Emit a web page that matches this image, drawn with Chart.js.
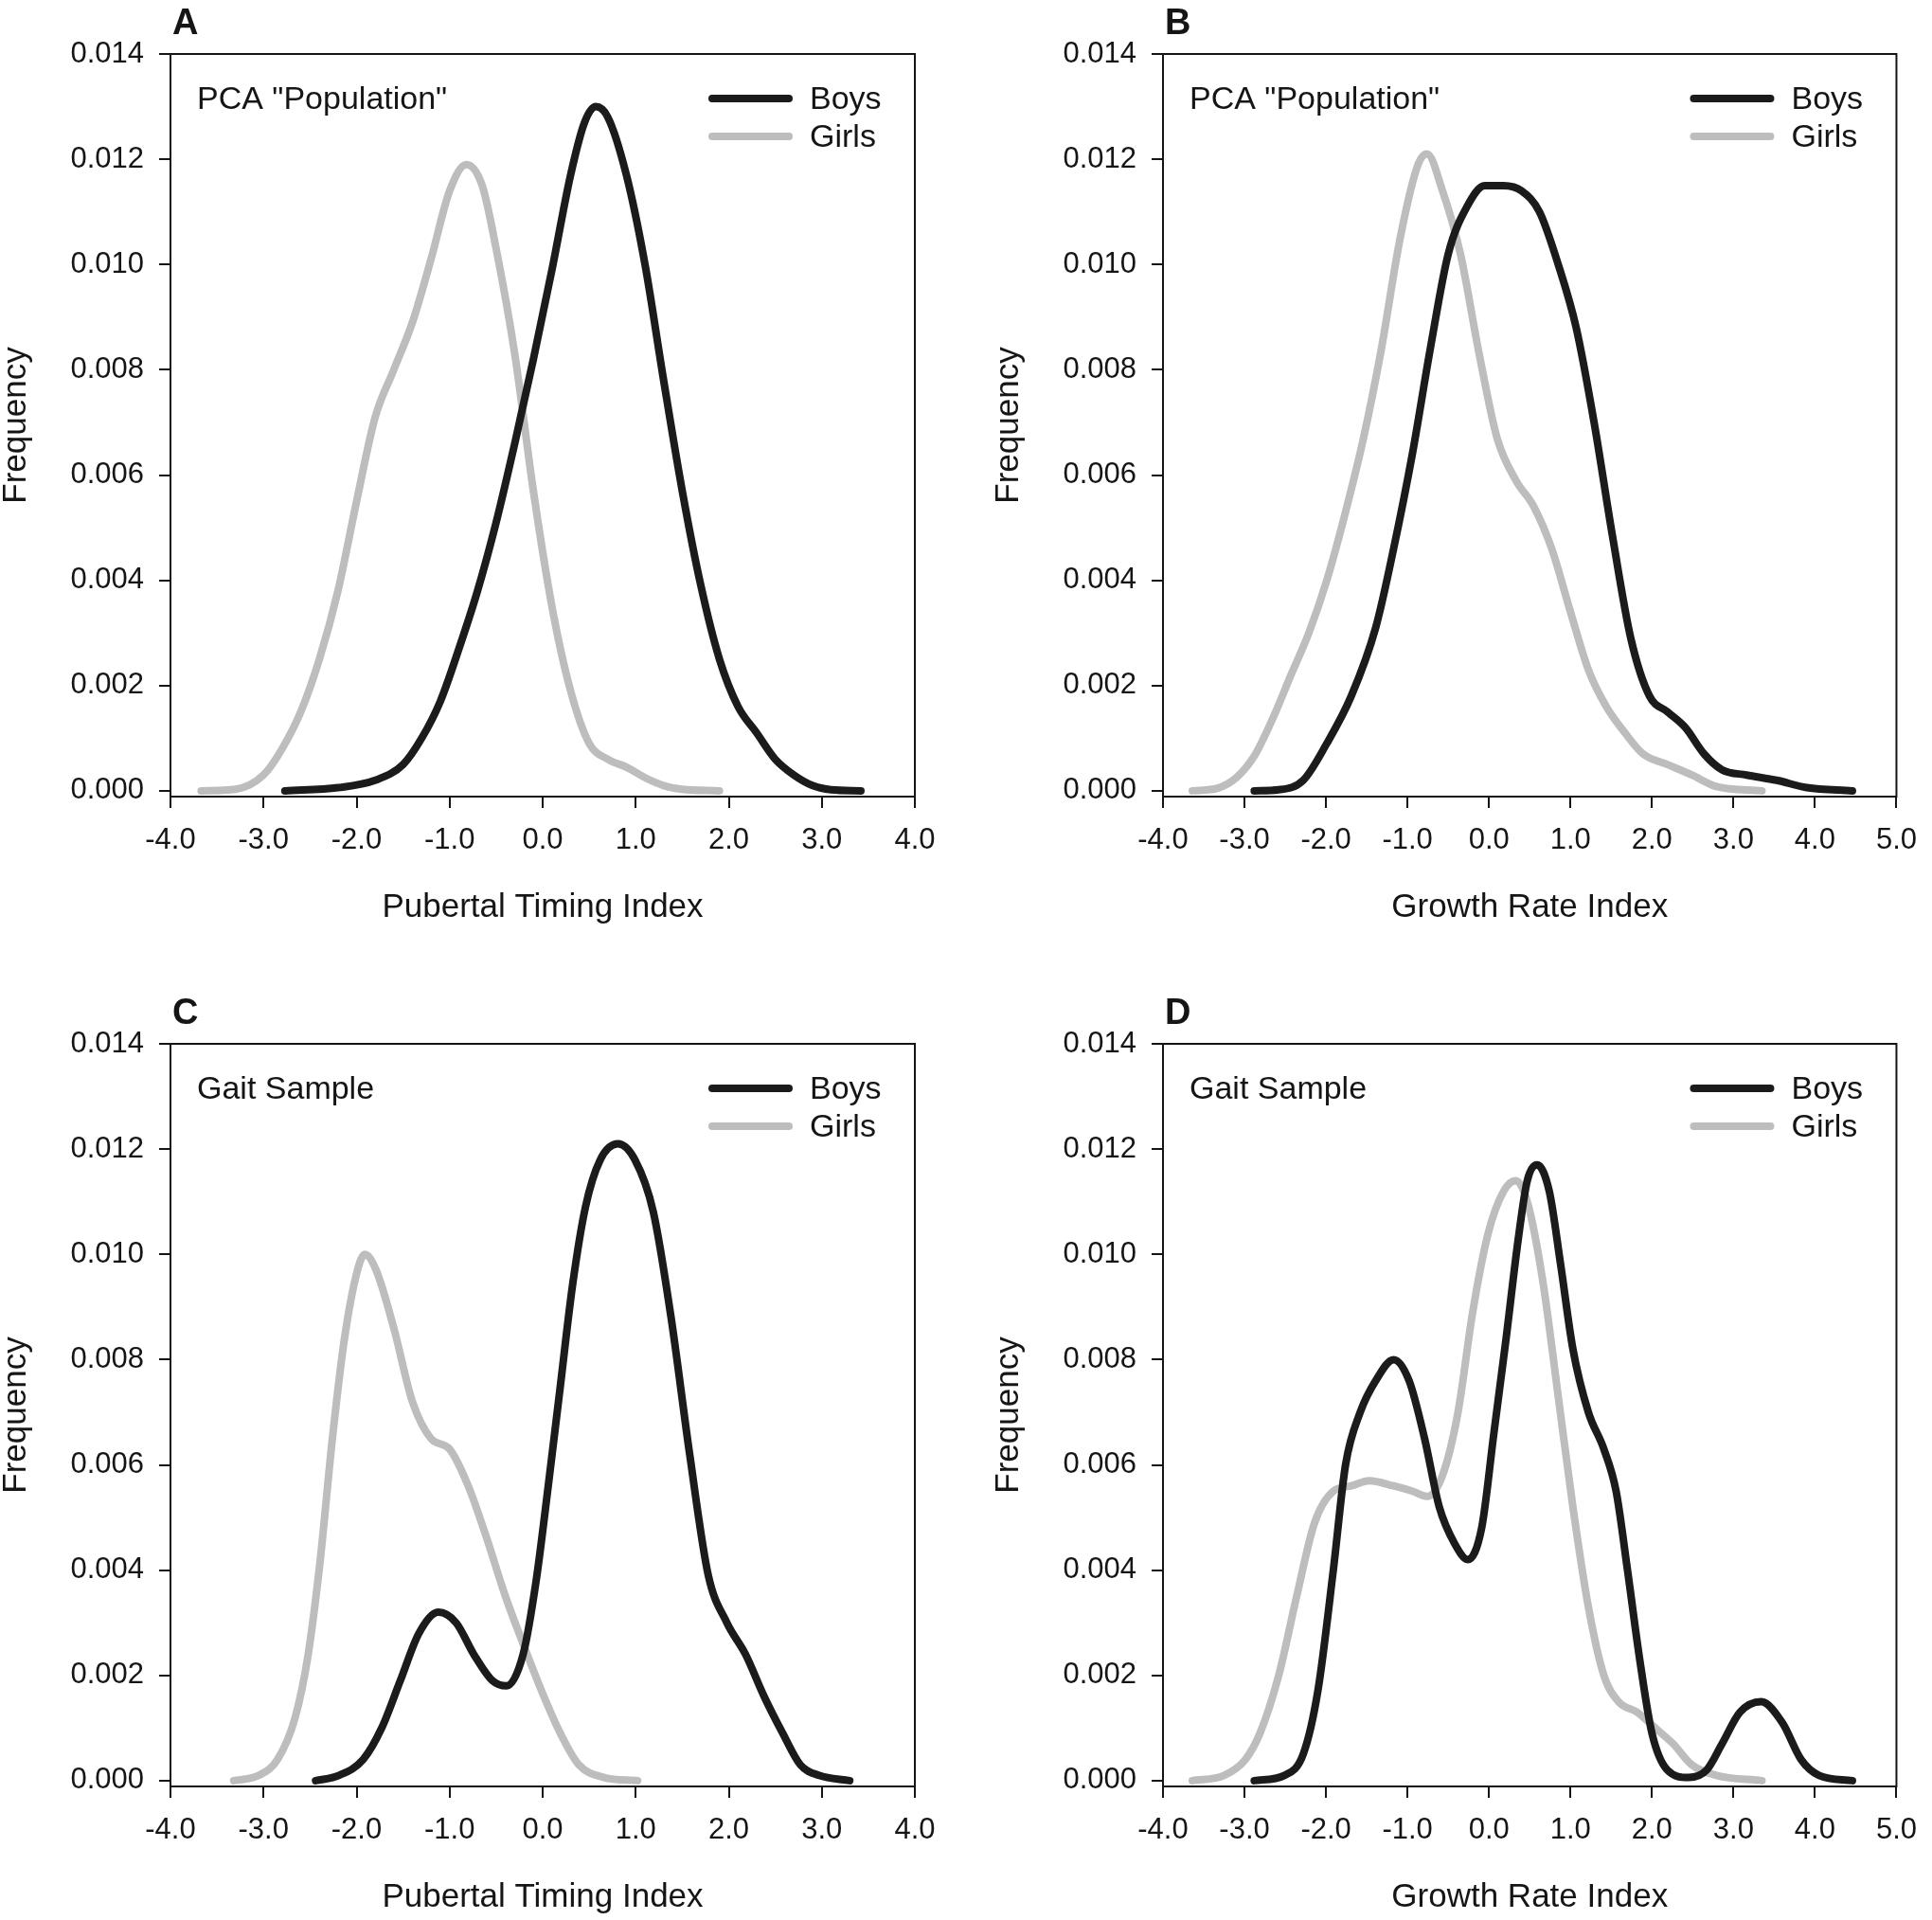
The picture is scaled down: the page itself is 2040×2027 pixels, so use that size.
<!DOCTYPE html>
<html>
<head>
<meta charset="utf-8">
<script src="https://cdn.jsdelivr.net/npm/chart.js"></script>
<style>
  html, body { margin: 0; padding: 0; background: #fff; overflow: hidden; }
  body { width: 2040px; height: 2027px; position: relative; }
  canvas { position: absolute; }
</style>
</head>
<body>
<canvas id="panelA"></canvas>
<canvas id="panelB"></canvas>
<canvas id="panelC"></canvas>
<canvas id="panelD"></canvas>
<script>
// Panel A : PCA "Population", pubertal timing
const xBoysA = [-2.77, -2.2, -1.8, -1.5, -1.3, -1.1, -0.9, -0.7, -0.5, -0.3, -0.1, 0.1, 0.3, 0.45, 0.57, 0.7, 0.9, 1.1, 1.3, 1.5, 1.7, 1.9, 2.1, 2.3, 2.5, 2.7, 2.9, 3.1, 3.42];
const yBoysA = [0, 0.00006, 0.0002, 0.0005, 0.001, 0.0017, 0.0027, 0.0038, 0.0051, 0.0066, 0.0082, 0.0099, 0.0117, 0.0127, 0.013, 0.0128, 0.0117, 0.01, 0.0078, 0.0057, 0.0039, 0.0025, 0.0016, 0.0011, 0.0006, 0.0003, 0.0001, 0.00002, 0];
const xGirlsA = [-3.67, -3.3, -3.0, -2.8, -2.6, -2.4, -2.2, -2.0, -1.8, -1.6, -1.4, -1.2, -1.0, -0.82, -0.65, -0.5, -0.3, -0.1, 0.1, 0.3, 0.5, 0.7, 0.9, 1.1, 1.3, 1.5, 1.9];
const yGirlsA = [0, 0.00003, 0.0003, 0.0008, 0.0015, 0.0025, 0.0038, 0.0055, 0.0071, 0.008, 0.0089, 0.0101, 0.0114, 0.0119, 0.0115, 0.0103, 0.0083, 0.0057, 0.0035, 0.0019, 0.0009, 0.0006, 0.00045, 0.00025, 0.0001, 0.00003, 0];

// Panel B : PCA "Population", growth rate
const xBoysB = [-2.88, -2.58, -2.28, -1.99, -1.69, -1.39, -1.17, -0.94, -0.72, -0.5, -0.27, -0.05, 0.18, 0.4, 0.62, 0.85, 1.07, 1.29, 1.52, 1.74, 1.97, 2.19, 2.41, 2.64, 2.86, 3.16, 3.53, 3.9, 4.46];
const yBoysB = [0, 0.00002, 0.0002, 0.0009, 0.0018, 0.0031, 0.0046, 0.0064, 0.0084, 0.0102, 0.0111, 0.0115, 0.0115, 0.0114, 0.011, 0.01, 0.0088, 0.007, 0.0048, 0.0029, 0.0018, 0.0015, 0.0012, 0.0007, 0.0004, 0.0003, 0.0002, 0.00006, 0];
const xGirlsB = [-3.64, -3.33, -3.1, -2.88, -2.66, -2.43, -2.21, -1.99, -1.76, -1.54, -1.32, -1.09, -0.87, -0.76, -0.57, -0.35, -0.12, 0.1, 0.33, 0.55, 0.77, 1.0, 1.22, 1.44, 1.67, 1.89, 2.19, 2.49, 2.79, 3.35];
const yGirlsB = [0, 0.00005, 0.00025, 0.00066, 0.00135, 0.0022, 0.003, 0.004, 0.0053, 0.0067, 0.0084, 0.0105, 0.0119, 0.0121, 0.0114, 0.0102, 0.0083, 0.0067, 0.0059, 0.0054, 0.0046, 0.0034, 0.0023, 0.0016, 0.0011, 0.0007, 0.0005, 0.0003, 0.00008, 0];

// Panel C : Gait sample, pubertal timing
const xBoysC = [-2.44, -2.19, -1.93, -1.73, -1.53, -1.33, -1.12, -0.93, -0.74, -0.54, -0.39, -0.21, -0.07, 0.06, 0.19, 0.32, 0.46, 0.62, 0.81, 0.99, 1.19, 1.38, 1.58, 1.78, 1.98, 2.18, 2.38, 2.58, 2.77, 2.97, 3.3];
const yBoysC = [0, 0.0001, 0.0004, 0.001, 0.0019, 0.0028, 0.0032, 0.003, 0.0024, 0.0019, 0.0018, 0.0024, 0.0038, 0.0056, 0.0075, 0.0094, 0.0109, 0.0118, 0.0121, 0.0118, 0.0108, 0.0088, 0.0062, 0.0039, 0.003, 0.0024, 0.0016, 0.0009, 0.0003, 0.0001, 0];
const xGirlsC = [-3.32, -3.05, -2.85, -2.66, -2.52, -2.39, -2.26, -2.13, -1.99, -1.91, -1.79, -1.6, -1.4, -1.2, -1.0, -0.8, -0.6, -0.4, -0.21, -0.01, 0.19, 0.39, 0.66, 1.02];
const yGirlsC = [0, 0.0001, 0.0004, 0.0012, 0.0024, 0.0042, 0.0065, 0.0084, 0.0097, 0.01, 0.0097, 0.0086, 0.0072, 0.0065, 0.0063, 0.0056, 0.0046, 0.0035, 0.0026, 0.0017, 0.0009, 0.0003, 0.00006, 0];

// Panel D : Gait sample, growth rate
const xBoysD = [-2.88, -2.51, -2.28, -2.1, -1.91, -1.76, -1.58, -1.39, -1.17, -0.98, -0.79, -0.61, -0.42, -0.26, -0.09, 0.06, 0.21, 0.36, 0.47, 0.59, 0.74, 0.88, 1.03, 1.22, 1.41, 1.56, 1.7, 1.85, 2.0, 2.19, 2.45, 2.67, 2.86, 3.08, 3.34, 3.6, 3.83, 4.05, 4.46];
const yBoysD = [0, 0.0001, 0.0005, 0.0017, 0.004, 0.006, 0.007, 0.0076, 0.008, 0.0076, 0.0065, 0.0052, 0.0045, 0.0042, 0.0048, 0.0066, 0.0084, 0.0103, 0.0114, 0.0117, 0.0112, 0.0098, 0.0082, 0.007, 0.0063, 0.0055, 0.004, 0.0023, 0.0009, 0.0002, 0.00006, 0.0002, 0.0007, 0.0013, 0.0015, 0.0011, 0.0004, 0.0001, 0];
const xGirlsD = [-3.64, -3.25, -2.99, -2.81, -2.58, -2.36, -2.14, -1.91, -1.69, -1.47, -1.17, -0.94, -0.76, -0.57, -0.38, -0.2, -0.01, 0.18, 0.33, 0.47, 0.66, 0.85, 1.03, 1.22, 1.41, 1.59, 1.82, 2.04, 2.26, 2.49, 2.79, 3.35];
const yGirlsD = [0, 0.0001, 0.0004, 0.0009, 0.002, 0.0035, 0.0049, 0.0055, 0.0056, 0.0057, 0.0056, 0.0055, 0.0054, 0.0058, 0.007, 0.0089, 0.0104, 0.0112, 0.0114, 0.011, 0.0095, 0.0073, 0.0052, 0.0033, 0.002, 0.0015, 0.0013, 0.001, 0.0007, 0.0003, 0.0001, 0];

// Axis ticks
const freqTicks = [0, 0.002, 0.004, 0.006, 0.008, 0.010, 0.012, 0.014];
const pubertalTicks = [-4, -3, -2, -1, 0, 1, 2, 3, 4];
const growthTicks = [-4, -3, -2, -1, 0, 1, 2, 3, 4, 5];

const FONT = "'Liberation Sans', Arial, sans-serif";
const INK = '#151515';
const BOYS_COLOR = '#1b1b1b';
const GIRLS_COLOR = '#bdbdbd';

function toPoints(xs, ys) {
    return xs.map((x, i) => ({ x: x, y: ys[i] }));
}

// frame, panel letter, sample label and legend
const decorations = {
    id: 'decorations',
    afterDraw(chart, args, opts) {
        const ctx = chart.ctx;
        const a = chart.chartArea;
        ctx.save();
        ctx.strokeStyle = INK;
        ctx.lineWidth = 2;
        ctx.strokeRect(a.left, a.top, a.right - a.left, a.bottom - a.top);

        ctx.fillStyle = INK;
        ctx.textBaseline = 'alphabetic';
        ctx.textAlign = 'left';
        ctx.font = 'bold 38px ' + FONT;
        ctx.fillText(opts.letter, a.left + 2, a.top - 21);

        ctx.font = '34px ' + FONT;
        ctx.fillText(opts.sample, a.left + 28, a.top + 58);

        chart.data.datasets.forEach((ds, i) => {
            const y = a.top + 47 + i * 40;
            ctx.strokeStyle = ds.borderColor;
            ctx.lineWidth = 8;
            ctx.lineCap = 'round';
            ctx.beginPath();
            ctx.moveTo(a.right - 214, y);
            ctx.lineTo(a.right - 133, y);
            ctx.stroke();
            ctx.fillStyle = INK;
            ctx.fillText(ds.label, a.right - 111, y + 11);
        });
        ctx.restore();
    }
};

function makePanel(id, pos, letter, sample, xTitle, xTicks, boys, girls) {
    const canvas = document.getElementById(id);
    canvas.width = pos.w;
    canvas.height = pos.h;
    canvas.style.left = pos.left + 'px';
    canvas.style.top = pos.top + 'px';

    new Chart(canvas.getContext('2d'), {
        type: 'line',
        data: {
            datasets: [{
                label: 'Boys',
                data: boys,
                borderColor: BOYS_COLOR,
                borderWidth: 8,
                borderCapStyle: 'round',
                pointRadius: 0,
                cubicInterpolationMode: 'monotone'
            }, {
                label: 'Girls',
                data: girls,
                borderColor: GIRLS_COLOR,
                borderWidth: 8,
                borderCapStyle: 'round',
                pointRadius: 0,
                cubicInterpolationMode: 'monotone'
            }]
        },
        options: {
            responsive: false,
            animation: false,
            devicePixelRatio: 1,
            layout: { padding: { left: 0, top: 57, right: pos.w - pos.frameRight, bottom: 0 } },
            plugins: {
                legend: { display: false },
                tooltip: { enabled: false },
                decorations: { letter: letter, sample: sample }
            },
            scales: {
                x: {
                    type: 'linear',
                    min: xTicks[0],
                    max: xTicks[xTicks.length - 1],
                    afterFit: (scale) => { scale.height = pos.h - 841; },
                    afterBuildTicks: (scale) => { scale.ticks = xTicks.map(v => ({ value: v })); },
                    grid: { drawOnChartArea: false, drawTicks: true, tickLength: 12, color: INK, lineWidth: 2 },
                    border: { display: true, color: INK, width: 2 },
                    ticks: {
                        autoSkip: false,
                        maxRotation: 0,
                        padding: 16,
                        color: INK,
                        font: { family: FONT, size: 31 },
                        callback: (v) => Number(v).toFixed(1)
                    },
                    title: {
                        display: true,
                        text: xTitle,
                        color: INK,
                        font: { family: FONT, size: 35, lineHeight: 1 },
                        padding: { top: 0, bottom: pos.h - 17.5 - 958 }
                    }
                },
                y: {
                    min: -0.00011,
                    max: 0.014,
                    afterFit: (scale) => { scale.width = 180; },
                    afterBuildTicks: (scale) => { scale.ticks = freqTicks.map(v => ({ value: v })); },
                    grid: { drawOnChartArea: false, drawTicks: true, tickLength: 12, color: INK, lineWidth: 2 },
                    border: { display: true, color: INK, width: 2 },
                    ticks: {
                        padding: 16,
                        color: INK,
                        font: { family: FONT, size: 31 },
                        callback: (v) => Number(v).toFixed(3)
                    },
                    title: {
                        display: true,
                        text: 'Frequency',
                        color: INK,
                        font: { family: FONT, size: 35, lineHeight: 1 },
                        padding: { top: 0, bottom: 0 }
                    }
                }
            }
        },
        plugins: [decorations]
    });
}

makePanel('panelA', { left: 0, top: 0, w: 1020, h: 1010, frameRight: 966 }, 'A', 'PCA "Population"',
    'Pubertal Timing Index', pubertalTicks, toPoints(xBoysA, yBoysA), toPoints(xGirlsA, yGirlsA));
makePanel('panelB', { left: 1048, top: 0, w: 992, h: 1010, frameRight: 966 }, 'B', 'PCA "Population"',
    'Growth Rate Index', growthTicks, toPoints(xBoysB, yBoysB), toPoints(xGirlsB, yGirlsB));
makePanel('panelC', { left: 0, top: 1045, w: 1020, h: 982, frameRight: 966 }, 'C', 'Gait Sample',
    'Pubertal Timing Index', pubertalTicks, toPoints(xBoysC, yBoysC), toPoints(xGirlsC, yGirlsC));
makePanel('panelD', { left: 1048, top: 1045, w: 992, h: 982, frameRight: 966 }, 'D', 'Gait Sample',
    'Growth Rate Index', growthTicks, toPoints(xBoysD, yBoysD), toPoints(xGirlsD, yGirlsD));
</script>
</body>
</html>
